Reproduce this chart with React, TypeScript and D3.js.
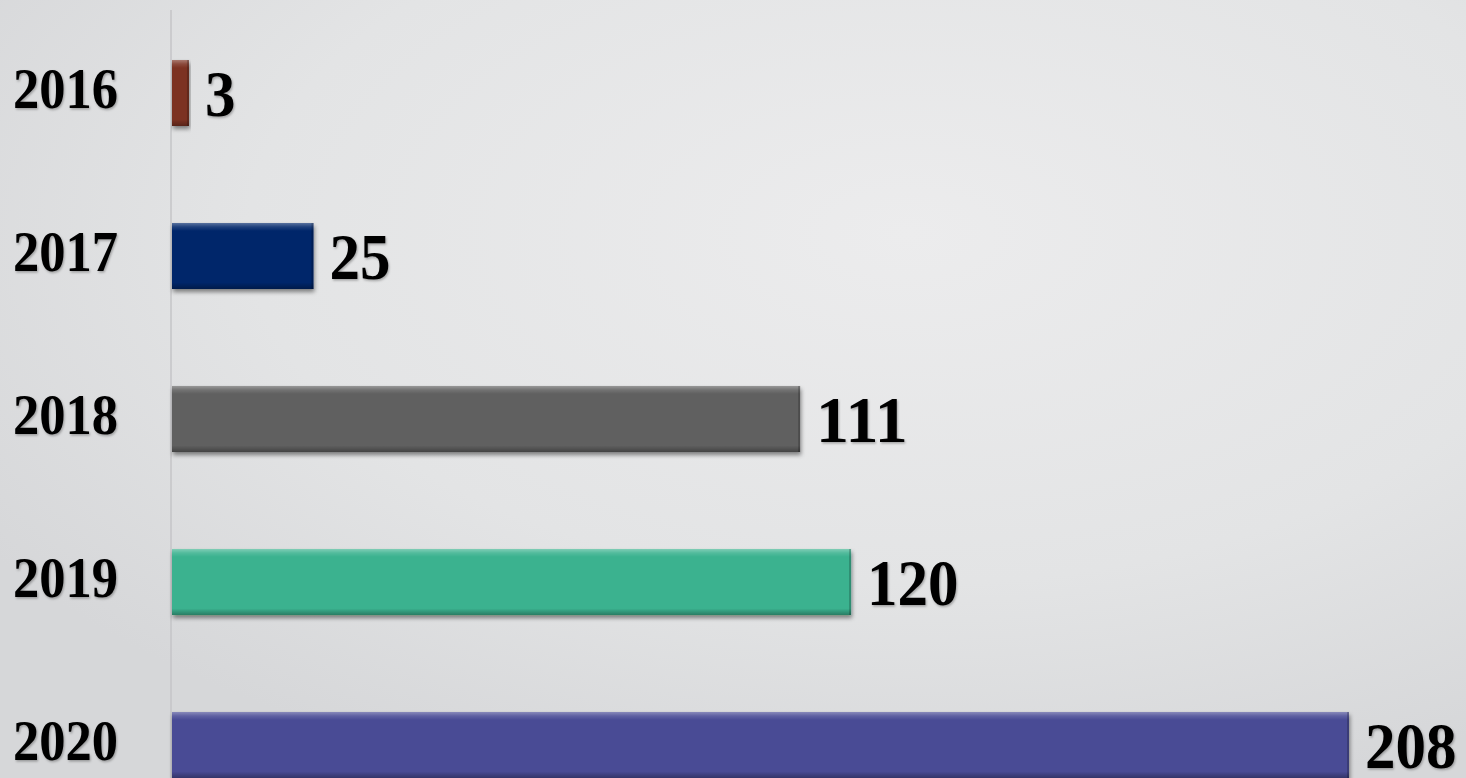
import React, { useEffect } from "react";
import * as d3 from "d3";

const years = ["2016", "2017", "2018", "2019", "2020"];
const values = [3, 25, 111, 120, 208];
const colors = ["#7b3320", "#06286a", "#606060", "#3ab28f", "#4a4b95"];

const W = 1466;
const H = 778;

export default function App() {
  useEffect(() => {
    document.body.style.margin = "0";
    document.body.style.overflow = "hidden";
  }, []);

  const x = d3.scaleLinear().domain([0, 208]).range([172, 1349]);
  const y = d3
    .scaleBand<string>()
    .domain(years)
    .range([11.5, 826.5])
    .paddingInner(0.595)
    .paddingOuter(0.2975);
  const bh = y.bandwidth();

  return (
    <svg width={W} height={H} style={{ display: "block" }}>
      <defs>
        <radialGradient id="bg" cx="0.62" cy="0.3" r="0.75">
          <stop offset="0" stopColor="#ececed" />
          <stop offset="0.6" stopColor="#e3e4e5" />
          <stop offset="1" stopColor="#d6d7d9" />
        </radialGradient>
        <filter id="sh" x="-5%" y="-20%" width="115%" height="160%">
          <feDropShadow dx="1" dy="3" stdDeviation="2" floodColor="#000" floodOpacity="0.45" />
        </filter>
        <filter id="tsh" x="-10%" y="-10%" width="130%" height="130%">
          <feDropShadow dx="1" dy="1.5" stdDeviation="1" floodColor="#000" floodOpacity="0.3" />
        </filter>
        <linearGradient id="bevel" x1="0" y1="0" x2="0" y2="1">
          <stop offset="0" stopColor="#fff" stopOpacity="0.35" />
          <stop offset="0.06" stopColor="#fff" stopOpacity="0.12" />
          <stop offset="0.12" stopColor="#fff" stopOpacity="0" />
          <stop offset="0.9" stopColor="#000" stopOpacity="0" />
          <stop offset="1" stopColor="#000" stopOpacity="0.3" />
        </linearGradient>
      </defs>
      <rect x={0} y={0} width={W} height={H} fill="url(#bg)" />
      <line x1={171} x2={171} y1={10} y2={H} stroke="#c4c5c7" strokeWidth={1.5} />
      {years.map((yr, i) => {
        const yy = y(yr) as number;
        const x0 = x(0);
        const w = x(values[i]) - x0;
        return (
          <g key={yr}>
            <rect x={x0} y={yy} width={w} height={bh} fill={colors[i]} filter="url(#sh)" />
            <rect x={x0} y={yy} width={w} height={bh} fill="url(#bevel)" />
            <rect x={x0 + w - 2} y={yy} width={2} height={bh} fill="#000" opacity={0.2} />
            <text
              x={13}
              y={yy + bh / 2 + 15}
              fontFamily="'Liberation Serif', serif"
              fontWeight="bold"
              fontSize={58}
              textLength={105}
              lengthAdjust="spacingAndGlyphs"
              fill="#000"
              filter="url(#tsh)"
            >
              {yr}
            </text>
            <text
              x={x(values[i]) + 16}
              y={yy + bh / 2 + 23}
              fontFamily="'Liberation Serif', serif"
              fontWeight="bold"
              fontSize={66}
              textLength={String(values[i]).length * 30.5}
              lengthAdjust="spacingAndGlyphs"
              fill="#000"
              filter="url(#tsh)"
            >
              {values[i]}
            </text>
          </g>
        );
      })}
    </svg>
  );
}
